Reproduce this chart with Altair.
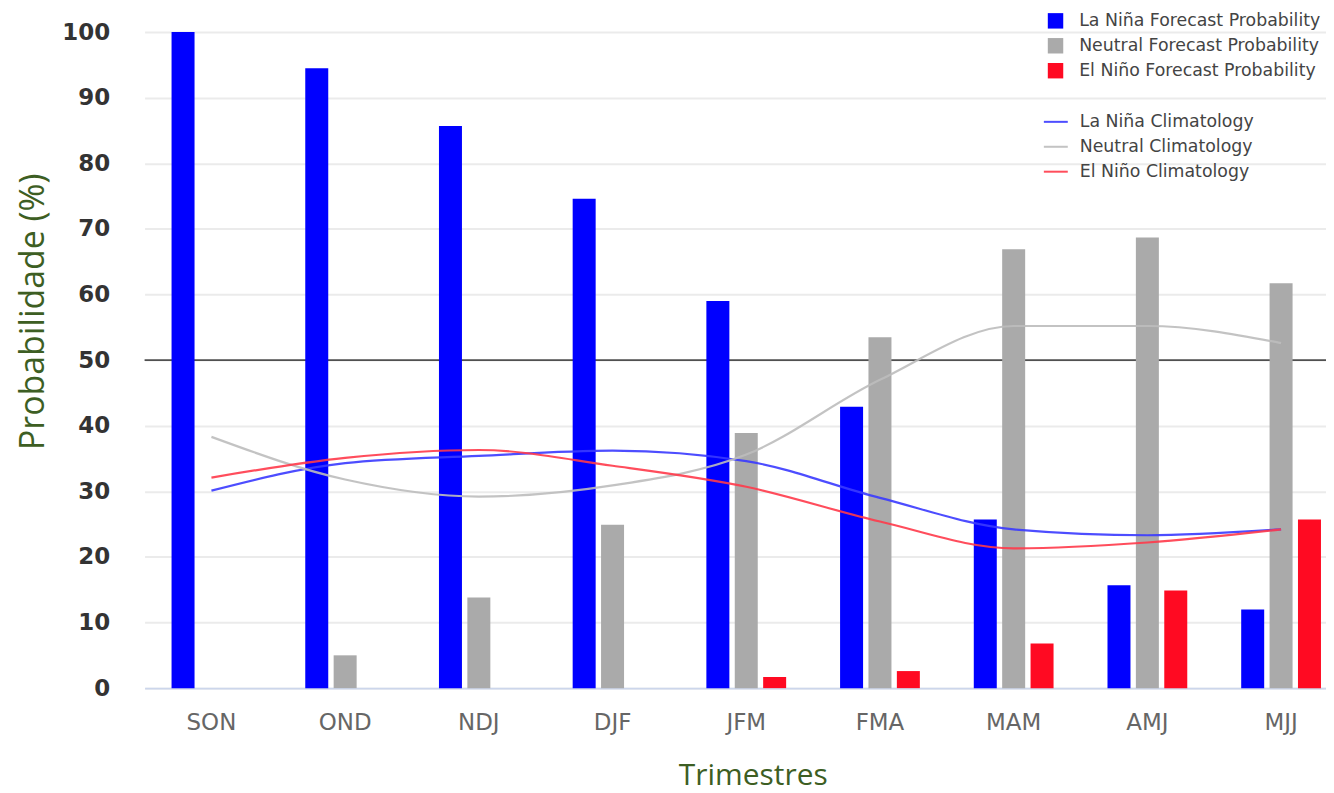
import altair as alt
import pandas as pd

trimestres = ["SON", "OND", "NDJ", "DJF", "JFM", "FMA", "MAM", "AMJ", "MJJ"]

# Forecast probabilities (%)
la_nina = [100, 94.5, 85.7, 74.6, 59, 42.9, 25.7, 15.7, 12]
neutral = [0, 5, 13.8, 24.9, 38.9, 53.5, 66.9, 68.7, 61.7]
el_nino = [0, 0, 0, 0, 1.7, 2.6, 6.8, 14.9, 25.7]

# Climatology (%)
clim_la_nina = [30.1, 34.3, 35.4, 36.2, 34.6, 29.0, 24.2, 23.3, 24.2]
clim_neutral = [38.3, 31.8, 29.2, 30.9, 35.6, 47.0, 55.2, 55.2, 52.6]
clim_el_nino = [32.1, 35.1, 36.3, 33.9, 30.7, 25.4, 21.3, 22.2, 24.2]

bar_series = ["La Niña Forecast Probability", "Neutral Forecast Probability", "El Niño Forecast Probability"]
bar_colors = ["#0000ff", "#aaaaaa", "#ff0a22"]
line_series = ["La Niña Climatology", "Neutral Climatology", "El Niño Climatology"]
line_colors = ["#3a3aff", "#bdbdbd", "#ff3a4a"]

rows = []
for s, vals in zip(bar_series, [la_nina, neutral, el_nino]):
    for t, v in zip(trimestres, vals):
        rows.append({"Trimestre": t, "Serie": s, "Valor": v})
bars_df = pd.DataFrame(rows)

rows = []
for s, vals in zip(line_series, [clim_la_nina, clim_neutral, clim_el_nino]):
    for t, v in zip(trimestres, vals):
        rows.append({"Trimestre": t, "Clima": s, "Valor": v})
lines_df = pd.DataFrame(rows)

GREEN = "#3d5e23"

x_enc = alt.X(
    "Trimestre:N",
    sort=trimestres,
    scale=alt.Scale(range=[0, 1207], paddingInner=0, paddingOuter=0),
    axis=alt.Axis(
        title="Trimestres",
        labelAngle=0,
        labelFont="DejaVu Sans",
        labelFontSize=23,
        labelColor="#666666",
        labelPadding=24,
        ticks=False,
        domain=True,
        domainColor="#ccd6eb",
        domainWidth=2,
        grid=False,
        titleFont="Open Sans",
        titleFontSize=30,
        titleFontWeight="normal",
        titleColor=GREEN,
        titleX=610,
        titleY=88,
        titleBaseline="middle",
        titleAlign="center",
    ),
)

y_enc = alt.Y(
    "Valor:Q",
    scale=alt.Scale(domain=[0, 100], nice=False),
    axis=alt.Axis(
        title="Probabilidade (%)",
        values=[0, 10, 20, 30, 40, 50, 60, 70, 80, 90, 100],
        labelFont="DejaVu Sans",
        labelFontSize=23,
        labelFontWeight="bold",
        labelColor="#333333",
        labelPadding=35,
        ticks=False,
        domain=False,
        grid=True,
        gridColor="#ebebeb",
        gridWidth=2,
        titleFont="Open Sans",
        titleFontSize=34,
        titleFontWeight="normal",
        titleColor=GREEN,
        titleAngle=270,
        titleX=-101,
        titleY=280,
        titleAlign="center",
        titleBaseline="alphabetic",
    ),
)

ref50 = alt.Chart(pd.DataFrame({"v": [50]})).mark_rule(color="#505050", strokeWidth=2).encode(
    y=alt.Y("v:Q", scale=alt.Scale(domain=[0, 100], nice=False))
)

bars = alt.Chart(bars_df).mark_bar().encode(
    x=x_enc,
    xOffset=alt.XOffset("Serie:N", sort=bar_series,
                        scale=alt.Scale(paddingInner=0.19, paddingOuter=0.95)),
    y=y_enc,
    fill=alt.Fill(
        "Serie:N",
        scale=alt.Scale(domain=bar_series, range=bar_colors),
        legend=alt.Legend(
            title=None,
            orient="none",
            legendX=905,
            legendY=-20,
            symbolType="square",
            symbolSize=240,
            symbolStrokeWidth=0,
            labelFont="DejaVu Sans",
            labelFontSize=17.4,
            labelColor="#444444",
            labelOffset=15,
            labelLimit=400,
            rowPadding=6,
            padding=0,
        ),
    ),
)

lines = alt.Chart(lines_df).mark_line(strokeWidth=2.2, interpolate="monotone", opacity=0.9).encode(
    x=alt.X("Trimestre:N", sort=trimestres),
    y=alt.Y("Valor:Q"),
    stroke=alt.Stroke(
        "Clima:N",
        scale=alt.Scale(domain=line_series, range=line_colors),
        legend=alt.Legend(
            title=None,
            orient="none",
            legendX=901,
            legendY=77,
            symbolType="stroke",
            symbolSize=576,
            symbolStrokeWidth=2,
            labelFont="DejaVu Sans",
            labelFontSize=17.4,
            labelColor="#444444",
            labelOffset=11,
            labelLimit=400,
            rowPadding=3,
            padding=0,
        ),
    ),
    detail="Clima:N",
)

chart = (
    alt.layer(ref50, bars, lines)
    .properties(
        width=1185,
        height=658,
        autosize=alt.AutoSizeParams(type="none"),
        padding={"left": 137, "top": 23, "right": 0, "bottom": 104},
    )
    .configure_view(stroke=None)
)

chart.save("out.html", embed_options={"renderer": "svg", "actions": False})
